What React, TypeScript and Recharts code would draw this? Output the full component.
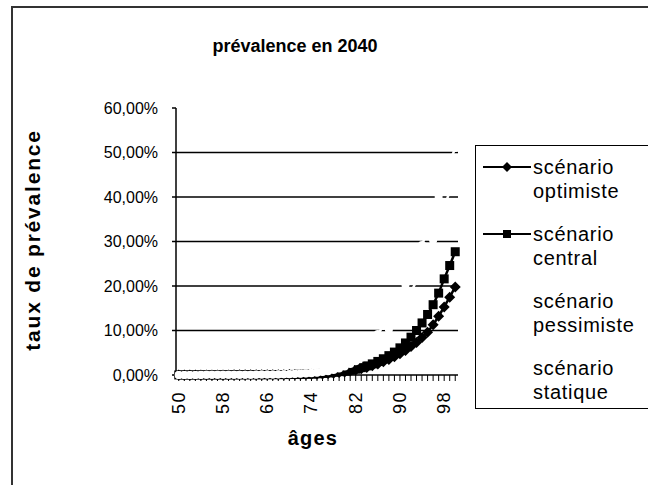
import React from "react";
import { LineChart, Line, XAxis, YAxis, ReferenceLine } from "recharts";

const FONT = "'Liberation Sans', Arial, sans-serif";

// ages 50 -> 100
const ages = [
  50, 51, 52, 53, 54, 55, 56, 57, 58, 59,
  60, 61, 62, 63, 64, 65, 66, 67, 68, 69,
  70, 71, 72, 73, 74, 75, 76, 77, 78, 79,
  80, 81, 82, 83, 84, 85, 86, 87, 88, 89,
  90, 91, 92, 93, 94, 95, 96, 97, 98, 99,
  100
];

// values in %
const optimiste = [
  0.01, 0.01, 0.01, 0.01, 0.01, 0.01, 0.02, 0.02, 0.02, 0.02,
  0.03, 0.03, 0.03, 0.04, 0.04, 0.05, 0.05, 0.06, 0.07, 0.08,
  0.09, 0.1, 0.12, 0.14, 0.16, 0.19, 0.25, 0.32, 0.42, 0.55,
  0.7, 0.9, 1.1, 1.4, 1.7, 2.1, 2.5, 3.0, 3.5, 4.1,
  4.8, 5.5, 6.4, 7.3, 8.4, 9.6, 11.3, 13.2, 15.3, 17.5,
  19.8
];

const central = [
  0.01, 0.01, 0.01, 0.01, 0.02, 0.02, 0.02, 0.02, 0.03, 0.03,
  0.03, 0.04, 0.04, 0.05, 0.05, 0.06, 0.07, 0.08, 0.09, 0.1,
  0.11, 0.13, 0.15, 0.17, 0.2, 0.27, 0.35, 0.45, 0.6, 0.75,
  0.85, 1.05, 1.3, 1.65, 2.05, 2.5, 3.05, 3.65, 4.35, 5.15,
  6.1, 7.2, 8.5, 10.0, 11.7, 13.6, 15.8, 18.4, 21.6, 24.6,
  27.7
];

const pessimiste = [
  0.02, 0.02, 0.02, 0.02, 0.03, 0.03, 0.03, 0.04, 0.04, 0.05,
  0.05, 0.06, 0.07, 0.08, 0.09, 0.1, 0.12, 0.14, 0.16, 0.19,
  0.22, 0.27, 0.33, 0.4, 0.5, 0.62, 0.8, 1.05, 1.4, 1.9,
  2.5, 3.2, 4.0, 5.0, 6.2, 7.6, 9.2, 11.0, 13.0, 15.2,
  17.6, 20.2, 23.0, 26.0, 29.2, 32.6, 36.2, 40.0, 44.0, 47.8,
  51.0
];

const statique = [
  0.02, 0.02, 0.02, 0.02, 0.02, 0.03, 0.03, 0.03, 0.04, 0.04,
  0.05, 0.05, 0.06, 0.07, 0.08, 0.09, 0.1, 0.12, 0.14, 0.16,
  0.19, 0.23, 0.28, 0.34, 0.42, 0.52, 0.66, 0.85, 1.1, 1.45,
  1.9, 2.45, 3.1, 3.9, 4.85, 5.95, 7.2, 8.6, 10.2, 12.0,
  14.0, 16.2, 18.6, 21.2, 24.0, 27.0, 30.3, 33.8, 37.5, 41.4,
  45.4
];

const yTicks = [0, 10, 20, 30, 40, 50, 60];
const gridValues = [10, 20, 30, 40, 50];
const xLabels = [50, 58, 66, 74, 82, 90, 98];

const legendItems = [
  { key: "optimiste", first: "scénario", second: "optimiste", color: "#000", marker: "diamond" },
  { key: "central", first: "scénario", second: "central", color: "#000", marker: "square" },
  { key: "pessimiste", first: "scénario", second: "pessimiste", color: "#fff", marker: "none" },
  { key: "statique", first: "scénario", second: "statique", color: "#fff", marker: "none" }
];

const data = ages.map((age, i) => ({
  age,
  optimiste: optimiste[i],
  central: central[i],
  pessimiste: pessimiste[i],
  statique: statique[i]
}));

const fmtPct = (v: number) => v.toFixed(2).replace(".", ",") + "%";

const DiamondDot = (props: any) => {
  const { cx, cy, index } = props;
  if (cx == null || cy == null) return null;
  const r = 5.5;
  return (
    <path
      key={"d" + index}
      d={`M${cx},${cy - r}L${cx + r},${cy}L${cx},${cy + r}L${cx - r},${cy}Z`}
      fill="#000"
    />
  );
};

const SquareDot = (props: any) => {
  const { cx, cy, index } = props;
  if (cx == null || cy == null) return null;
  const s = 4.5;
  return <rect key={"s" + index} x={cx - s} y={cy - s} width={s * 2} height={s * 2} fill="#000" />;
};

const WhiteDot = (props: any) => {
  const { cx, cy, index } = props;
  if (cx == null || cy == null) return null;
  return <circle key={"w" + index} cx={cx} cy={cy} r={4} fill="#fff" />;
};

const AgeTick = (props: any) => {
  const { x, y, payload } = props;
  if (!xLabels.includes(payload.value)) return null;
  const ty = y + 8;
  return (
    <text
      x={x}
      y={ty}
      transform={`rotate(-90, ${x}, ${ty})`}
      textAnchor="end"
      dominantBaseline="central"
      fontSize={18}
      letterSpacing={1.5}
      fontFamily={FONT}
      fill="#000"
    >
      {payload.value}
    </text>
  );
};

function LegendBox() {
  return (
    <div
      style={{
        position: "absolute",
        left: 475,
        top: 145,
        width: 200,
        height: 264,
        border: "1.5px solid #000",
        boxSizing: "border-box",
        fontFamily: FONT,
        fontSize: 20,
        letterSpacing: 0.7,
        color: "#000",
        paddingTop: 9
      }}
    >
      {legendItems.map((it) => (
        <div key={it.key} style={{ position: "relative", height: 67, lineHeight: "24px" }}>
          <svg width={48} height={24} style={{ position: "absolute", left: 7, top: 0 }}>
            <line x1={0} y1={12} x2={48} y2={12} stroke={it.color} strokeWidth={2} />
            {it.marker === "diamond" && <path d="M24,7L29,12L24,17L19,12Z" fill="#000" />}
            {it.marker === "square" && <rect x={20} y={8} width={8} height={8} fill="#000" />}
          </svg>
          <div style={{ position: "absolute", left: 57, top: 0, whiteSpace: "nowrap" }}>
            {it.first}
            <br />
            {it.second}
          </div>
        </div>
      ))}
    </div>
  );
}

export default function App() {
  return (
    <div
      style={{
        position: "fixed",
        left: 0,
        top: 0,
        width: 648,
        height: 485,
        overflow: "hidden",
        background: "#fff"
      }}
    >
      <div
        style={{
          position: "absolute",
          left: 11,
          top: 6,
          width: 700,
          height: 600,
          border: "2px solid #333"
        }}
      />
      <div
        style={{
          position: "absolute",
          left: 95,
          top: 36,
          width: 400,
          textAlign: "center",
          fontFamily: FONT,
          fontWeight: "bold",
          fontSize: 18
        }}
      >
        prévalence en 2040
      </div>
      <div
        style={{
          position: "absolute",
          left: 33 - 150,
          top: 240 - 13,
          width: 300,
          height: 26,
          lineHeight: "26px",
          textAlign: "center",
          transform: "rotate(-90deg)",
          fontFamily: FONT,
          fontWeight: "bold",
          fontSize: 21,
          letterSpacing: 1.8
        }}
      >
        taux de prévalence
      </div>
      <div
        style={{
          position: "absolute",
          left: 313 - 60,
          top: 427,
          width: 120,
          textAlign: "center",
          fontFamily: FONT,
          fontWeight: "bold",
          fontSize: 20,
          letterSpacing: 1.2
        }}
      >
        âges
      </div>
      <div style={{ position: "absolute", left: 0, top: 0 }}>
        <LineChart
          width={648}
          height={485}
          data={data}
          margin={{ top: 108, right: 190, bottom: 40, left: 0 }}
        >
          <XAxis
            dataKey="age"
            type="category"
            scale="band"
            interval={0}
            height={70}
            axisLine={{ stroke: "#000", strokeWidth: 1.5 }}
            tickLine={{ stroke: "#000", strokeWidth: 1 }}
            tickSize={6}
            tick={<AgeTick />}
          />
          <YAxis
            domain={[0, 60]}
            ticks={yTicks}
            interval={0}
            width={176}
            tickFormatter={fmtPct}
            axisLine={{ stroke: "#000", strokeWidth: 1.5 }}
            tickLine={{ stroke: "#000", strokeWidth: 1.5 }}
            tickSize={4}
            tickMargin={14}
            tick={{ fill: "#000", fontSize: 16, fontFamily: FONT }}
          />
          {gridValues.map((v) => (
            <ReferenceLine key={v} y={v} stroke="#000" strokeWidth={1.5} />
          ))}
          <Line
            dataKey="optimiste"
            stroke="#000"
            strokeWidth={2.5}
            dot={DiamondDot}
            isAnimationActive={false}
          />
          <Line
            dataKey="central"
            stroke="#000"
            strokeWidth={2.5}
            dot={SquareDot}
            isAnimationActive={false}
          />
          <Line
            dataKey="pessimiste"
            stroke="#fff"
            strokeWidth={2.5}
            dot={WhiteDot}
            isAnimationActive={false}
          />
          <Line
            dataKey="statique"
            stroke="#fff"
            strokeWidth={2.5}
            dot={WhiteDot}
            isAnimationActive={false}
          />
        </LineChart>
      </div>
      <LegendBox />
    </div>
  );
}
